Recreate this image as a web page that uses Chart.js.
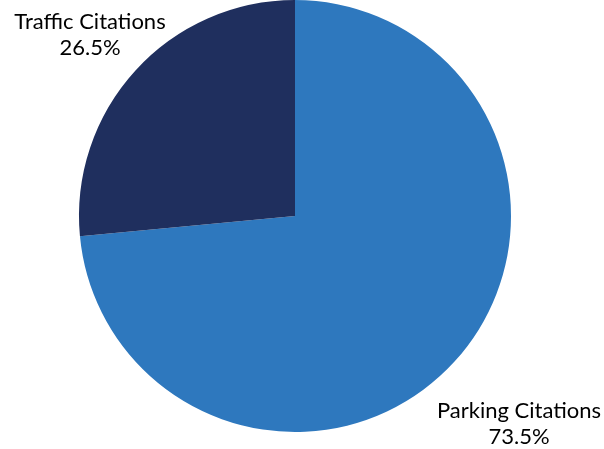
<!DOCTYPE html>
<html>
<head>
<meta charset="utf-8">
<script src="https://cdn.jsdelivr.net/npm/chart.js@4/dist/chart.umd.min.js"></script>
<style>
  html, body { margin: 0; padding: 0; background: #fff; }
  #wrap { width: 604px; height: 449px; position: relative; }
</style>
</head>
<body>
<div id="wrap"><canvas id="graph"></canvas></div>
<script>
const categories = ['Parking Citations', 'Traffic Citations'];
const percents = [73.5, 26.5];
const colors = ['#2e78be', '#1f2f5e'];

// where each label's text block is centred (x, first line baseline)
const labelSpots = [
  { x: 519, y: 418 },
  { x: 90, y: 29 }
];

const sliceLabels = {
  id: 'sliceLabels',
  afterDraw(chart) {
    const ctx = chart.ctx;
    ctx.save();
    ctx.fillStyle = '#000';
    ctx.font = '22px Lato, "Open Sans", sans-serif';
    ctx.textAlign = 'center';
    ctx.textBaseline = 'alphabetic';
    categories.forEach((c, i) => {
      const p = labelSpots[i];
      ctx.fillText(c, p.x, p.y);
      ctx.fillText(percents[i].toFixed(1) + '%', p.x, p.y + 26);
    });
    ctx.restore();
  }
};

let canvas = document.querySelector('#graph').getContext('2d');

new Chart(canvas, {
  type: 'pie',
  data: {
    labels: categories,
    datasets: [{
      data: percents,
      backgroundColor: colors,
      borderWidth: 0
    }]
  },
  options: {
    responsive: true,
    maintainAspectRatio: false,
    animation: false,
    layout: { padding: { top: 0, bottom: 17, left: 79, right: 93 } },
    plugins: {
      legend: { display: false },
      tooltip: { enabled: false }
    }
  },
  plugins: [sliceLabels]
});
</script>
</body>
</html>
